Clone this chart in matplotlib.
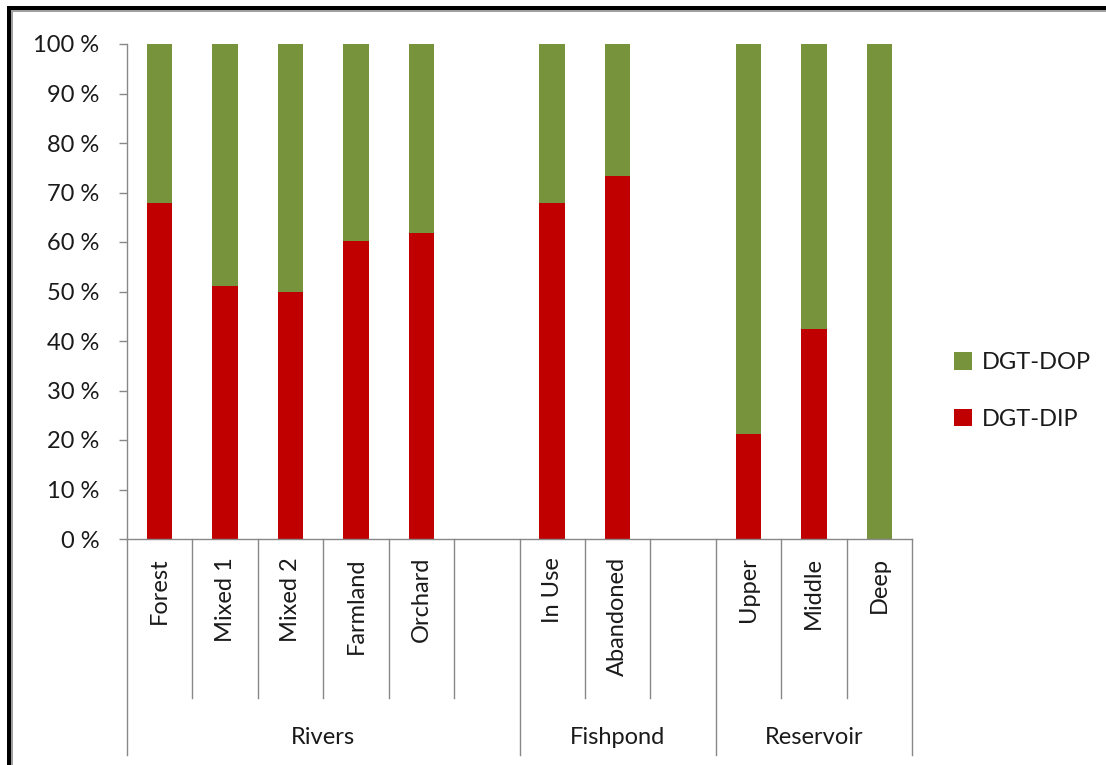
import matplotlib
matplotlib.use("Agg")
import matplotlib.pyplot as plt
from matplotlib.patches import Rectangle
import numpy as np

plt.rcParams['font.family'] = ['Lato', 'DejaVu Sans']

categories = ["Forest", "Mixed 1", "Mixed 2", "Farmland", "Orchard", "",
              "In Use", "Abandoned", "", "Upper", "Middle", "Deep"]
groups = ["Rivers", "Fishpond", "Reservoir"]
group_sizes = [6, 3, 3]
dip = [67.8, 51.1, 49.9, 60.2, 61.9, 0, 67.8, 73.3, 0, 21.2, 42.4, 0]
present = [1, 1, 1, 1, 1, 0, 1, 1, 0, 1, 1, 1]
dop = [(100 - d) if p else 0 for d, p in zip(dip, present)]
yticks = list(range(0, 101, 10))
ytick_labels = [f"{t} %" for t in yticks]

W, H = 1106, 765
fig = plt.figure(figsize=(W / 100, H / 100), dpi=100)
fig.patch.set_facecolor("white")

# frame (black + gray inner line on top and left)
fig.add_artist(Rectangle((7 / W, 0), 4 / W, 1 - 6 / H, transform=fig.transFigure,
                         color="black", lw=0, zorder=10))
fig.add_artist(Rectangle((7 / W, 1 - 10 / H), 1 - 7 / W, 4 / H, transform=fig.transFigure,
                         color="black", lw=0, zorder=10))
fig.add_artist(Rectangle((11 / W, 0), 2 / W, 1 - 10 / H, transform=fig.transFigure,
                         color="#a0a0a0", lw=0, zorder=10))
fig.add_artist(Rectangle((11 / W, 1 - 12 / H), 1 - 11 / W, 2 / H, transform=fig.transFigure,
                         color="#a0a0a0", lw=0, zorder=10))

left, right, top, bottom = 127, 912, 44, 539
ax = fig.add_axes([left / W, 1 - bottom / H, (right - left) / W, (bottom - top) / H])

x = np.arange(len(categories))
green = "#77933C"
red = "#C00000"
bw = 0.39
ax.bar(x, dip, width=bw, color=red, label="DGT-DIP", zorder=2)
ax.bar(x, dop, width=bw, bottom=dip, color=green, label="DGT-DOP", zorder=2)

ax.set_xlim(-0.5, len(categories) - 0.5)
ax.set_ylim(0, 100)
ax.set_yticks(yticks)
ax.set_yticklabels(ytick_labels)
axis_gray = "#888888"
for s in ["top", "right"]:
    ax.spines[s].set_visible(False)
ax.spines["left"].set_color(axis_gray)
ax.spines["bottom"].set_color(axis_gray)
ax.spines["left"].set_linewidth(1.0)
ax.spines["bottom"].set_linewidth(1.0)
ax.tick_params(axis="y", length=6, width=1.0, color=axis_gray, pad=14,
               labelsize=17, labelcolor="#1a1a1a")
ax.set_xticks([])

# category axis: inner lines, group lines, labels
ax_h = bottom - top
trans = ax.get_xaxis_transform()
inner_len = -(698 - bottom) / ax_h
outer_len = -(755 - bottom) / ax_h
boundaries = np.arange(len(categories) + 1) - 0.5
group_edges = np.concatenate([[0], np.cumsum(group_sizes)]) - 0.5
for b in boundaries:
    if np.any(np.isclose(b, group_edges)):
        ax.plot([b, b], [0, outer_len], transform=trans, color=axis_gray,
                lw=1.0, clip_on=False)
    else:
        ax.plot([b, b], [0, inner_len], transform=trans, color=axis_gray,
                lw=1.0, clip_on=False)

lab_y = -(557 - bottom) / ax_h
for xi, c in zip(x, categories):
    if c:
        ax.text(xi, lab_y, c, transform=trans, rotation=90, ha="center", va="top",
                fontsize=17, color="#1a1a1a")

grp_y = -(738 - bottom) / ax_h
for g, a, b in zip(groups, group_edges[:-1], group_edges[1:]):
    ax.text((a + b) / 2, grp_y, g, transform=trans, ha="center", va="center",
            fontsize=17, color="#1a1a1a")

handles, labels = ax.get_legend_handles_labels()
leg = fig.legend(handles[::-1], labels[::-1], loc="center left",
                 bbox_to_anchor=(933 / W, 1 - 391 / H), frameon=False,
                 fontsize=17, handlelength=0.75, handleheight=0.75,
                 handletextpad=0.4, labelspacing=1.5, labelcolor="#1a1a1a")

fig.savefig("out.png", dpi=100)
